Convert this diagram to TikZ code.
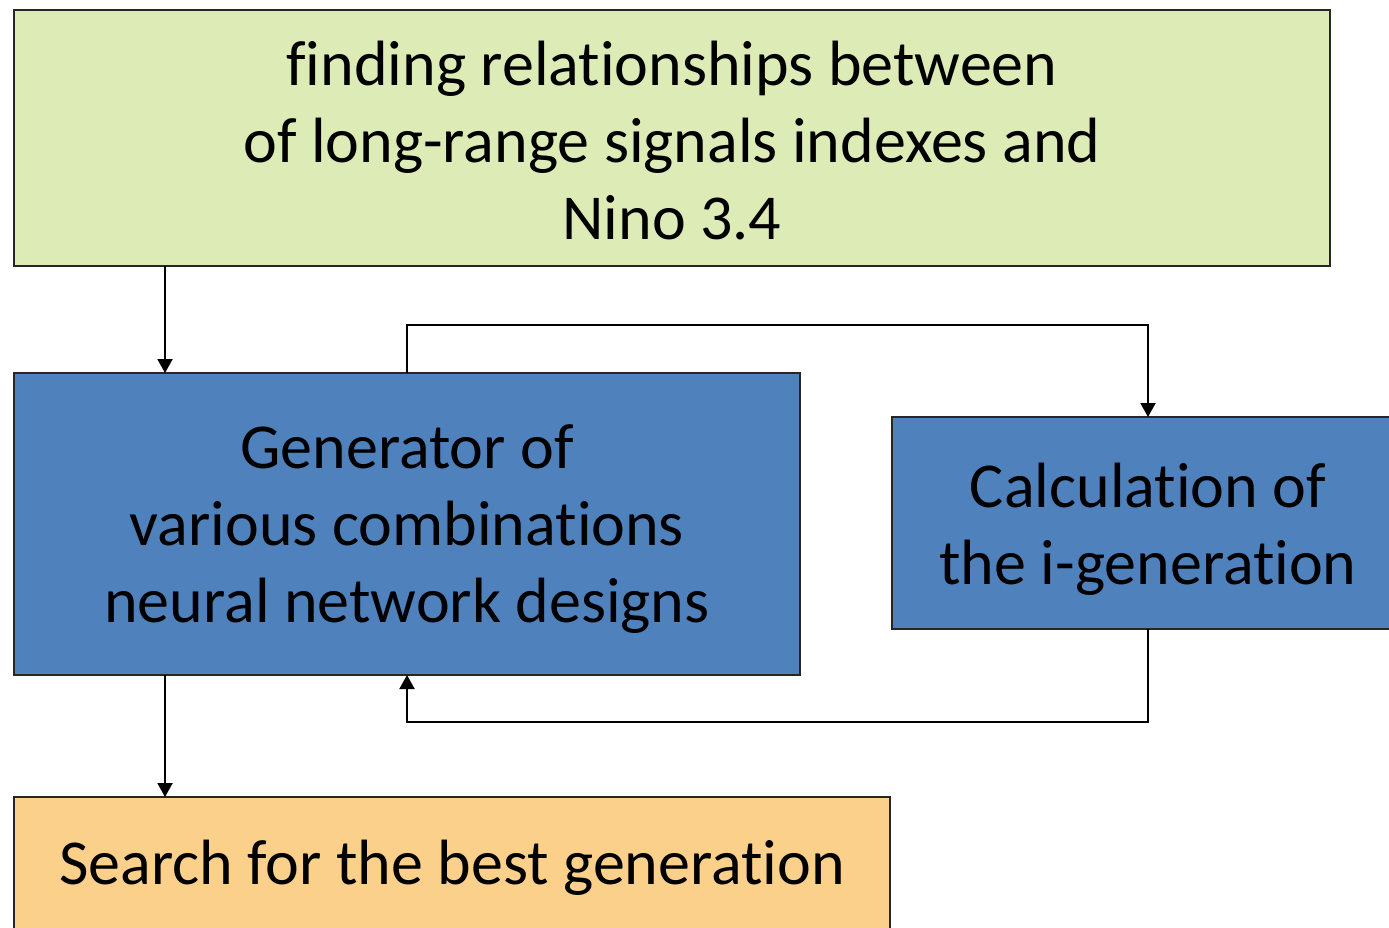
\documentclass[tikz,border=0pt]{standalone}
\usepackage{fontspec}
\setmainfont[Ligatures=NoCommon]{Carlito}
\usetikzlibrary{arrows.meta,calc}
\definecolor{topgreen}{HTML}{DDEBB6}
\definecolor{genblue}{HTML}{4F81BD}
\definecolor{searchorange}{HTML}{FAD08A}
\begin{document}
\begin{tikzpicture}[x=1pt,y=-1pt,
  box/.style={draw=black!85, line width=2pt, inner sep=0pt, outer sep=0pt},
  lbl/.style={inner sep=0pt, align=center, font=\fontsize{64}{77}\selectfont},
  arr/.style={line width=2pt, -{Triangle[length=14pt,width=15pt]}}]
\useasboundingbox (0,0) rectangle (1389,927);
\clip (0,0) rectangle (1389,927);
\node[box, fill=topgreen, minimum width=1316pt, minimum height=256pt] (top) at (672,138) {};
\node[lbl] (toptext) at (672,141)
  {finding relationships between\\ of long-range signals indexes and\\ Nino 3.4};
\node[box, fill=genblue, minimum width=786pt, minimum height=302pt] (gen) at (407,524) {};
\node[lbl] (gentext) at (407,529)
  {Generator of\\ various combinations\\ neural network designs};
\node[box, fill=genblue, minimum width=512pt, minimum height=212pt] (calc) at (1148,523) {};
\node[lbl] (calctext) at (1148,529)
  {Calculation of\\ the i-generation};
\node[box, fill=searchorange, minimum width=876pt, minimum height=160pt] (search) at (452,877) {};
\node[lbl] (searchtext) at (452,868) {Search for the best generation};
\coordinate (c1) at (165,0);
\draw[arr] (c1 |- top.south) -- (c1 |- gen.north);
\draw[arr] (gen.north) -- ++(0,-48) -| (calc.north);
\draw[arr] (calc.south) -- ++(0,93) -| (gen.south);
\draw[arr] (c1 |- gen.south) -- (c1 |- search.north);
\end{tikzpicture}
\end{document}
